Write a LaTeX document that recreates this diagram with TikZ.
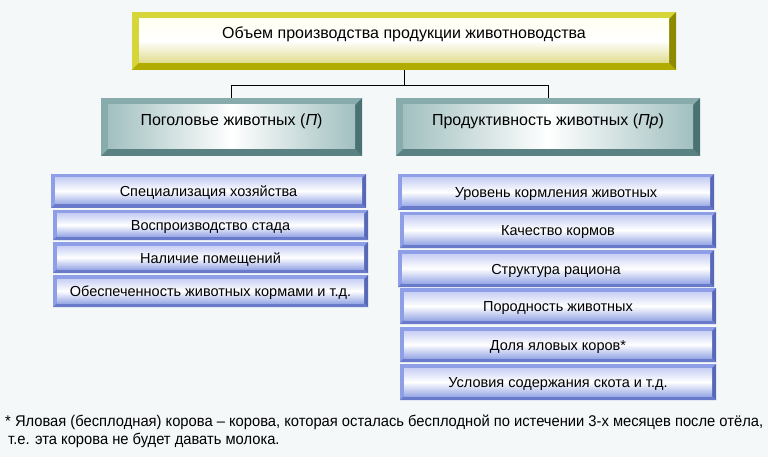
\documentclass[tikz,border=0pt]{standalone}
\usepackage{fontspec}
\setmainfont{Liberation Sans}
\newfontfamily\notefont[FakeStretch=0.95]{Liberation Sans}
\usetikzlibrary{calc}

\definecolor{bg}{HTML}{F4F8F8}
\definecolor{ylight}{HTML}{D6D63A}
\definecolor{ydarkb}{HTML}{B2AC00}
\definecolor{ydarkr}{HTML}{8C8A00}
\definecolor{ytop}{HTML}{FFFFF2}
\definecolor{ybot}{HTML}{E0DC8C}
\definecolor{tlight}{HTML}{88ACAC}
\definecolor{tdarkb}{HTML}{5A8282}
\definecolor{tdarkr}{HTML}{4A7272}
\definecolor{tside}{HTML}{A2C0C0}
\definecolor{blight}{HTML}{8E9FE8}
\definecolor{bdarkb}{HTML}{6A7ACA}
\definecolor{bdarkr}{HTML}{5868B8}
\definecolor{btop}{HTML}{C8D0F4}
\definecolor{bbot}{HTML}{9AAAE6}

\newcommand\bevelpic[4]{%
  \fill[#2] (path picture bounding box.south west) -- (path picture bounding box.south east)
    -- ([shift={(-#1,#1)}]path picture bounding box.south east)
    -- ([shift={(#1,#1)}]path picture bounding box.south west) -- cycle;
  \fill[#3] (path picture bounding box.south east) -- (path picture bounding box.north east)
    -- ([shift={(-#1,-#1)}]path picture bounding box.north east)
    -- ([shift={(-#1,#1)}]path picture bounding box.south east) -- cycle;
  \shade[#4] ([shift={(#1,#1)}]path picture bounding box.south west)
    rectangle ([shift={(-#1,-#1)}]path picture bounding box.north east);
}

\tikzset{
  topbox/.style={fill=ylight, inner sep=0pt, minimum width=544pt, minimum height=58pt,
    text height=12pt, text depth=16pt, font=\fontsize{16}{19}\selectfont,
    path picture={\bevelpic{7pt}{ydarkb}{ydarkr}{top color=ytop, bottom color=ybot, middle color=white}}},
  midbox/.style={fill=tlight, inner sep=0pt, minimum height=58pt,
    text height=12pt, text depth=14pt, font=\fontsize{16}{19}\selectfont,
    path picture={\bevelpic{7pt}{tdarkb}{tdarkr}{left color=tside, right color=tside, middle color=white}}},
  itembox/.style={fill=blight, inner sep=0pt, minimum width=316pt,
    text height=11pt, text depth=0pt, font=\fontsize{14.5}{17}\selectfont,
    path picture={\bevelpic{4pt}{bdarkb}{bdarkr}{top color=btop, bottom color=bbot, middle color=white}}},
  link/.style={draw=black, line width=1pt},
  note/.style={anchor=base west, align=left, inner sep=0pt, font=\notefont\fontsize{15.5}{18}\selectfont}
}

\begin{document}
\begin{tikzpicture}[x=1pt,y=-1pt]
\useasboundingbox[fill=bg] (0,0) rectangle (768,457);

\node[topbox] (top) at (404,41) {Объем производства продукции животноводства};
\node[midbox, minimum width=261pt] (heads) at (231.5,127) {Поголовье животных (\textit{П})};
\node[midbox, minimum width=304pt] (prod) at (548,127) {Продуктивность животных (\textit{Пр})};

\path (top.south) ++(0,15) coordinate (j);
\draw[link] (top.south) -- (j);
\draw[link] (heads.north) |- (j) -| (prod.north);

\node[itembox, minimum width=315pt, minimum height=34pt] (a1) at (208.5,191) {Специализация хозяйства};
\node[itembox, minimum width=315pt, minimum height=30pt] (a2) at (210.5,225) {Воспроизводство стада};
\node[itembox, minimum width=315pt, minimum height=31pt] (a3) at (210.5,257.5) {Наличие помещений};
\node[itembox, minimum width=315pt, minimum height=32pt] (a4) at (210.5,291) {Обеспеченность животных кормами и т.д.};

\node[itembox, minimum height=36pt] (b1) at (556,192) {Уровень кормления животных};
\node[itembox, minimum height=36pt] (b2) at (558,230) {Качество кормов};
\node[itembox, minimum height=37pt] (b3) at (556,268.5) {Структура рациона};
\node[itembox, minimum height=36pt] (b4) at (558,306) {Породность животных};
\node[itembox, minimum height=35pt] (b5) at (558,344.5) {Доля яловых коров*};
\node[itembox, minimum height=36pt] (b6) at (558,382) {Условия содержания скота и т.д.};

\node[note] (fn) at (5,444) {* Яловая (бесплодная) корова – корова, которая осталась бесплодной по истечении 3-х месяцев после отёла,\\
\hspace*{3pt}т.е. эта корова не будет давать молока.};
\end{tikzpicture}
\end{document}
